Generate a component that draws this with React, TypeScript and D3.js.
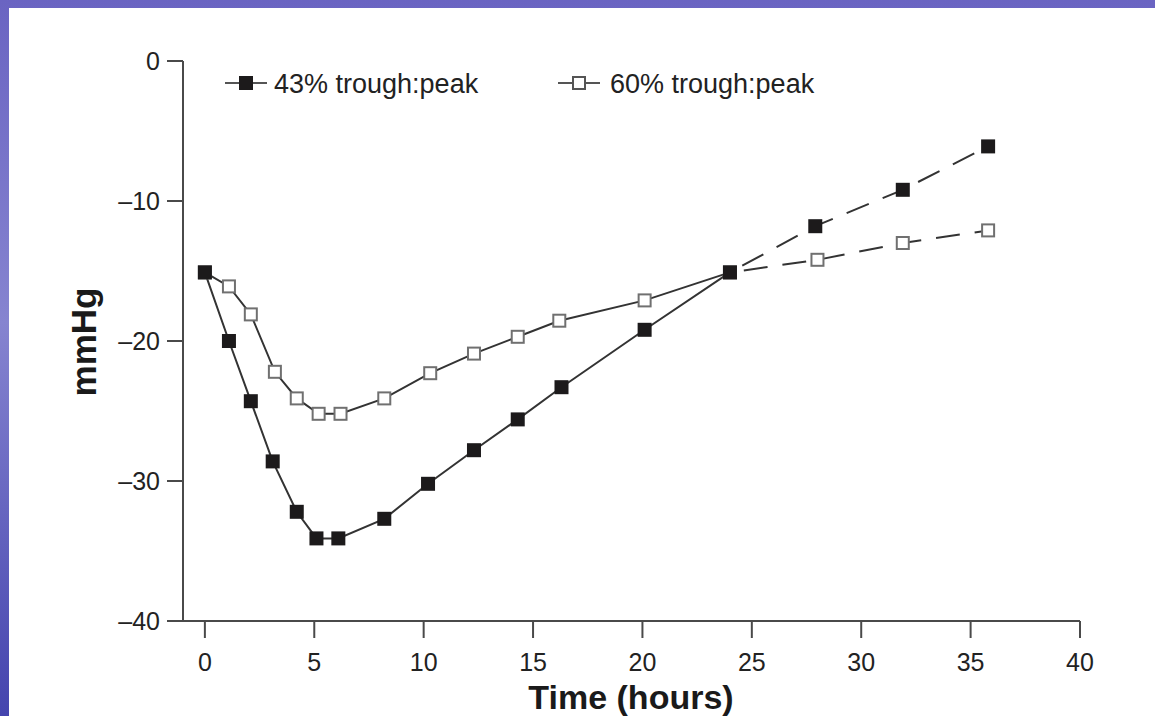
import React from 'react';
import * as d3 from 'd3';

// 43% trough:peak (filled squares)
const hours43 = [0, 1.1, 2.1, 3.1, 4.2, 5.1, 6.1, 8.2, 10.2, 12.3, 14.3, 16.3, 20.1, 24, 27.9, 31.9, 35.8];
const values43 = [-15.1, -20.0, -24.3, -28.6, -32.2, -34.1, -34.1, -32.7, -30.2, -27.8, -25.6, -23.3, -19.2, -15.1, -11.8, -9.2, -6.1];

// 60% trough:peak (open squares)
const hours60 = [0, 1.1, 2.1, 3.2, 4.2, 5.2, 6.2, 8.2, 10.3, 12.3, 14.3, 16.2, 20.1, 24, 28, 31.9, 35.8];
const values60 = [-15.1, -16.1, -18.1, -22.2, -24.1, -25.2, -25.2, -24.1, -22.3, -20.9, -19.7, -18.55, -17.1, -15.1, -14.2, -13.0, -12.1];

const xTicks = [0, 5, 10, 15, 20, 25, 30, 35, 40];
const yTicks = [0, -10, -20, -30, -40];
const dashFrom = 24; // points after 24 h are drawn dashed

const W = 1155;
const H = 716;
const font = "'Liberation Sans', Arial, Helvetica, sans-serif";

function App() {
  const x = d3.scaleLinear().domain([-1, 40]).range([183, 1080]);
  const y = d3.scaleLinear().domain([-40, 0]).range([621, 61]);

  const s43 = hours43.map((h, i) => ({ h, v: values43[i] }));
  const s60 = hours60.map((h, i) => ({ h, v: values60[i] }));

  const line = d3
    .line<{ h: number; v: number }>()
    .x((d) => x(d.h))
    .y((d) => y(d.v));

  const solid = (s: { h: number; v: number }[]) => s.filter((d) => d.h <= dashFrom);
  const dashed = (s: { h: number; v: number }[]) => s.filter((d) => d.h >= dashFrom);

  const ms = 14;

  return (
    <svg
      width={W}
      height={H}
      style={{ position: 'absolute', left: 0, top: 0, display: 'block' }}
      fontFamily={font}
    >
      <defs>
        <linearGradient id="bg" x1="0" y1="0" x2="0" y2="1">
          <stop offset="0" stopColor="#6a64c2" />
          <stop offset="0.45" stopColor="#8684d0" />
          <stop offset="1" stopColor="#4444ae" />
        </linearGradient>
      </defs>
      <rect x={0} y={0} width={W} height={H} fill="url(#bg)" />
      <rect x={9} y={8} width={W - 9} height={H - 8} fill="#ffffff" />

      {/* axes */}
      <g stroke="#4a4a4a" strokeWidth={2} fill="none">
        <line x1={x(-1)} x2={x(-1)} y1={y(0)} y2={y(-40)} />
        <line x1={x(-1)} x2={x(40)} y1={y(-40)} y2={y(-40)} />
        {yTicks.map((t) => (
          <line key={'yt' + t} x1={x(-1) - 16} x2={x(-1)} y1={y(t)} y2={y(t)} />
        ))}
        {xTicks.map((t) => (
          <line key={'xt' + t} x1={x(t)} x2={x(t)} y1={y(-40)} y2={y(-40) + 17} />
        ))}
      </g>
      <g fill="#222" fontSize={25}>
        {yTicks.map((t) => (
          <text key={'yl' + t} x={x(-1) - 23} y={y(t)} dy="0.36em" textAnchor="end">
            {t < 0 ? '\u2013' + Math.abs(t) : t}
          </text>
        ))}
        {xTicks.map((t) => (
          <text key={'xl' + t} x={x(t)} y={y(-40) + 50} textAnchor="middle">
            {t}
          </text>
        ))}
      </g>
      <text x={631} y={709} textAnchor="middle" fontSize={34} fontWeight="bold" fill="#1a1a1a">
        Time (hours)
      </text>
      <text
        transform={`translate(96,342) rotate(-90)`}
        textAnchor="middle"
        fontSize={35}
        fontWeight="bold"
        fill="#1a1a1a"
      >
        mmHg
      </text>

      {/* lines */}
      <g fill="none" stroke="#333" strokeWidth={2}>
        <path d={line(solid(s60)) || ''} />
        <path d={line(dashed(s60)) || ''} strokeDasharray="24 15" strokeDashoffset={-14} />
        <path d={line(solid(s43)) || ''} />
        <path d={line(dashed(s43)) || ''} strokeDasharray="24 15" strokeDashoffset={-14} />
      </g>

      {/* markers */}
      <g>
        {s60.map((d, i) => (
          <rect
            key={'o' + i}
            x={x(d.h) - (ms - 2) / 2}
            y={y(d.v) - (ms - 2) / 2}
            width={ms - 2}
            height={ms - 2}
            fill="#fff"
            stroke="#707070"
            strokeWidth={2}
          />
        ))}
        {s43.map((d, i) => (
          <rect
            key={'f' + i}
            x={x(d.h) - ms / 2}
            y={y(d.v) - ms / 2}
            width={ms}
            height={ms}
            fill="#1c1a1b"
          />
        ))}
      </g>

      {/* legend */}
      <g>
        <line x1={225} x2={267} y1={83} y2={83} stroke="#555" strokeWidth={2} />
        <rect x={246 - ms / 2} y={83 - ms / 2} width={ms} height={ms} fill="#1c1a1b" />
        <text x={274} y={83} dy="0.36em" fontSize={27} fill="#222">
          43% trough:peak
        </text>
        <line x1={558} x2={600} y1={83} y2={83} stroke="#555" strokeWidth={2} />
        <rect
          x={579 - (ms - 2) / 2}
          y={83 - (ms - 2) / 2}
          width={ms - 2}
          height={ms - 2}
          fill="#fff"
          stroke="#555"
          strokeWidth={2}
        />
        <text x={610} y={83} dy="0.36em" fontSize={27} fill="#222">
          60% trough:peak
        </text>
      </g>
    </svg>
  );
}

export default App;
